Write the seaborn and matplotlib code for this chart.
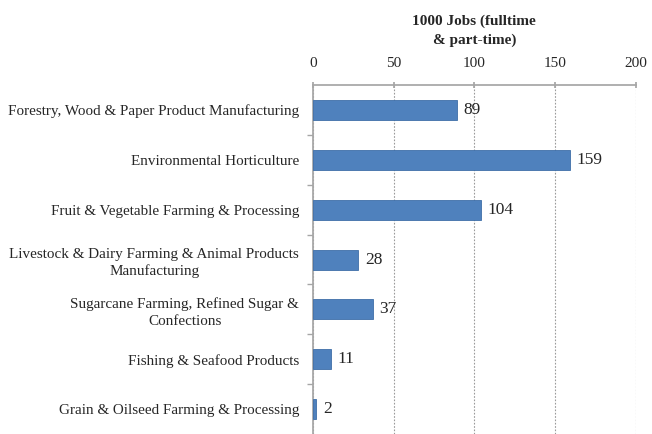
import numpy as np
import pandas as pd
import matplotlib
matplotlib.use("Agg")
import matplotlib.pyplot as plt
import seaborn as sns
from matplotlib.ticker import FixedLocator

# 데이터
categories = [
    "Forestry, Wood & Paper Product Manufacturing",
    "Environmental Horticulture",
    "Fruit & Vegetable Farming & Processing",
    "Livestock & Dairy Farming & Animal Products\nManufacturing",
    "Sugarcane Farming, Refined Sugar &\nConfections",
    "Fishing & Seafood Products",
    "Grain & Oilseed Farming & Processing",
]
jobs = [89, 159, 104, 28, 37, 11, 2]
x_ticks = [0, 50, 100, 150, 200]
x_title = "1000 Jobs (fulltime\n& part-time)"

df = pd.DataFrame({"category": categories, "jobs": jobs})

sns.set_theme(style="white")
plt.rcParams["font.family"] = ["Liberation Serif", "DejaVu Serif"]

fig = plt.figure(figsize=(6.52, 4.34), dpi=100)
ax = fig.add_axes([0.480, 0.0, 0.495, 0.804])

sns.barplot(data=df, y="category", x="jobs", orient="h", color="#4F81BD",
            saturation=1, width=0.4, edgecolor="#3E6EA8", linewidth=0.6,
            ax=ax, zorder=3)

ax.set_xlim(0, 200)
ax.set_ylim(len(categories) - 0.5, -0.5)
ax.xaxis.tick_top()
ax.xaxis.set_label_position("top")
ax.set_xticks(x_ticks)
ax.set_xticklabels([str(t) for t in x_ticks], fontsize=11)
ax.set_xlabel(x_title, fontsize=11, fontweight="bold", labelpad=10, linespacing=1.5)
ax.set_ylabel("")
ax.set_yticks(range(len(categories)))
ax.set_yticklabels(categories, fontsize=10.9, multialignment="center", linespacing=1.35)
ax.tick_params(axis="y", length=0, pad=10)
ax.tick_params(axis="x", length=5, color="#A6A6A6", direction="inout", pad=8)
ax.yaxis.set_minor_locator(FixedLocator(np.arange(0.5, len(categories) - 1, 1.0)))
ax.tick_params(axis="y", which="minor", length=4, color="#A6A6A6", direction="out", left=True)

ax.grid(axis="x", linestyle=(0, (1.5, 1.5)), color="#9A9A9A", linewidth=0.8, zorder=0)
ax.grid(axis="y", visible=False)
for s in ["right", "bottom"]:
    ax.spines[s].set_visible(False)
ax.spines["left"].set_color("#A6A6A6")
ax.spines["top"].set_color("#A6A6A6")

ax.bar_label(ax.containers[0], labels=[str(v) for v in jobs], padding=5, fontsize=12.5)

fig.savefig("out.png", dpi=100)
